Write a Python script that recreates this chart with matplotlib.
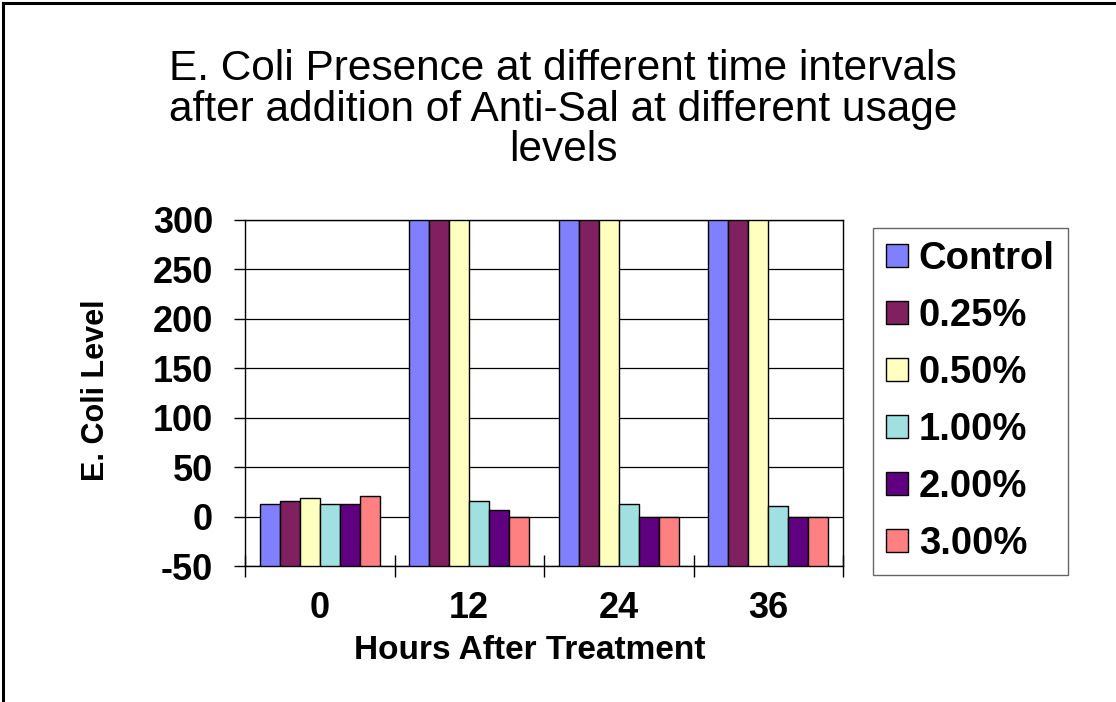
import numpy as np
import matplotlib
matplotlib.use('Agg')
import matplotlib.pyplot as plt
from matplotlib.lines import Line2D

# Data
hours = ['0', '12', '24', '36']
series = ['Control', '0.25%', '0.50%', '1.00%', '2.00%', '3.00%']
control = [13, 300, 300, 300]
pct_025 = [16, 300, 300, 300]
pct_050 = [19, 300, 300, 300]
pct_100 = [13, 16, 13, 11]
pct_200 = [13, 7, 0, 0]
pct_300 = [21, 0, 0, 0]
colors = ['#8080FF', '#802060', '#FFFFC0', '#A0E0E0', '#600080', '#FF8080']
title_lines = ['E. Coli Presence at different time intervals',
               'after addition of Anti-Sal at different usage',
               'levels']

plt.rcParams['font.family'] = ['Liberation Sans', 'DejaVu Sans']
plt.rcParams['axes.unicode_minus'] = False

fig = plt.figure(figsize=(11.16, 7.02), dpi=100)
ax = fig.add_axes([245 / 1116, 1 - 566 / 702, 598 / 1116, 346 / 702])

ymin = -50
values = [control, pct_025, pct_050, pct_100, pct_200, pct_300]
x = np.arange(len(hours))
w = 0.134
# Excel draws the bars up from the axis floor (-50)
for i, (name, vals) in enumerate(zip(series, values)):
    ax.bar(x + (i - 2.5) * w, np.array(vals) - ymin, w, bottom=ymin,
           color=colors[i], edgecolor='black', linewidth=1, label=name,
           zorder=3)

ax.set_xlim(-0.5, 3.5)
ax.set_ylim(ymin, 300)
ax.set_yticks(np.arange(-50, 301, 50))
ax.yaxis.grid(True, color='black', linewidth=0.9, zorder=0)
ax.set_axisbelow(True)

# category boundaries as major ticks, labels on minor ticks
ax.set_xticks(np.arange(-0.5, 3.6, 1))
ax.set_xticklabels([])
ax.set_xticks(x, minor=True)
ax.set_xticklabels(hours, minor=True, fontsize=26, fontweight='bold')
ax.tick_params(axis='x', which='major', direction='inout', length=16, width=1)
ax.tick_params(axis='x', which='minor', length=0, pad=18)
ax.tick_params(axis='y', direction='out', length=8, width=1, pad=15,
               labelsize=26)
for lab in ax.get_yticklabels():
    lab.set_fontweight('bold')

for s in ax.spines.values():
    s.set_color('black')
    s.set_linewidth(1)

ax.set_xlabel('Hours After Treatment', fontsize=24, fontweight='bold')
ax.xaxis.set_label_coords((530 - 245) / 598, -0.2)
fig.text(96 / 1116, 1 - 390 / 702, 'E. Coli Level', rotation=90,
         ha='center', va='center', fontsize=22, fontweight='bold')

for k, line in enumerate(title_lines):
    fig.text(563 / 1116, 1 - (69 + 40.5 * k) / 702, line, ha='center',
             va='center', fontsize=30.5)

leg = fig.legend(loc='upper left', bbox_to_anchor=(873 / 1116, 1 - 228 / 702),
                 borderaxespad=0, fancybox=False, frameon=True,
                 prop={'size': 27.5, 'weight': 'bold'}, handlelength=0.58,
                 handleheight=0.58, handletextpad=0.28, labelspacing=0.55,
                 borderpad=0.34)
leg.get_frame().set_edgecolor('#404040')
leg.get_frame().set_linewidth(1)

# outer border (top and left)
fig.add_artist(Line2D([3 / 1116, 3 / 1116], [0, 1 - 3 / 702], color='black',
                      linewidth=2.2, transform=fig.transFigure))
fig.add_artist(Line2D([3 / 1116, 1], [1 - 3 / 702, 1 - 3 / 702], color='black',
                      linewidth=2.2, transform=fig.transFigure))

fig.savefig('out.png', dpi=100, facecolor='white')
